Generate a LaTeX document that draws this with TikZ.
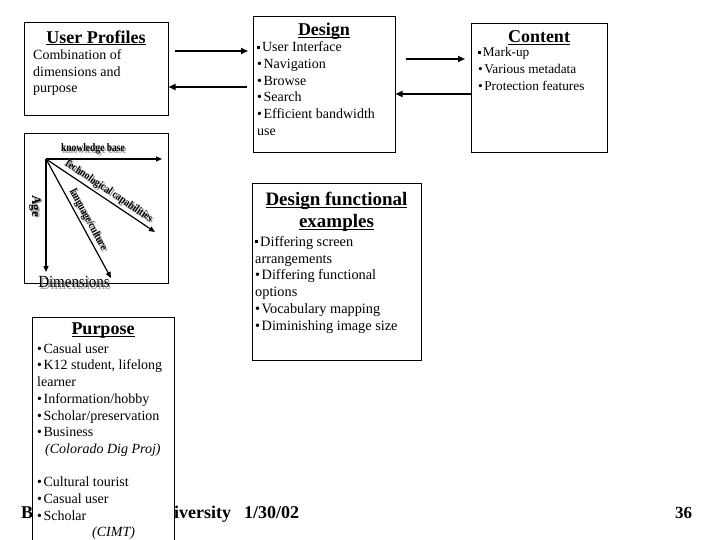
\documentclass[tikz,border=0pt]{standalone}
\usepackage{fontspec}
\usepackage{graphicx}
\setmainfont{Liberation Serif}
\usetikzlibrary{arrows.meta}
\newcommand\sqb{\rule[0.22em]{0.2em}{0.2em}\hspace{0.15em}}
\newcommand\bul{\textbullet\hspace{1.5pt}}
\newcommand\ttlu[1]{\underline{\smash{#1}}}
\begin{document}
\begin{tikzpicture}[x=1pt,y=-1pt,
  box/.style={draw, line width=0.9pt, fill=white},
  harrow/.style={line width=1.8pt, -{Triangle[length=7pt,width=6pt]}},
  darrow/.style={line width=1.2pt, -{Triangle[length=6pt,width=5pt]}},
  body/.style={anchor=north west, inner sep=0pt, align=left, font=\fontsize{14}{16.7}\selectfont},
  ttl/.style={anchor=base, inner sep=0pt, font=\bfseries\fontsize{18}{21}\selectfont},
  dlab/.style={inner sep=0pt, font=\bfseries\fontsize{11.5}{12}\selectfont},
  shd/.style={text=black!40},
  foot/.style={anchor=base west, inner sep=0pt, font=\bfseries\fontsize{18}{20}\selectfont}
]
\useasboundingbox (0,0) rectangle (720,540);

% footer (partly hidden behind the Purpose box)
\node[foot] (fB) at (21,518) {B};
\node[foot] (fU) at (174,518) {iversity};
\node[foot] (fD) at (244,518) {1/30/02};
\node[anchor=base, inner sep=0pt, font=\bfseries\fontsize{17}{20}\selectfont] (pg) at (683.5,518) {36};

% User Profiles
\draw[box] (24,22) rectangle (168,115);
\node[ttl] (upt) at (96,43.3) {\ttlu{User Profiles}};
\node[body] (upb) at (33,49.3) {Combination of\\dimensions and\\purpose};

% Design
\draw[box] (253,16) rectangle (395,152);
\node[ttl] (dt) at (324,36) {\ttlu{Design}};
\node[body] (db) at (257,41.6) {\sqb User Interface\\\bul Navigation\\\bul Browse\\\bul Search\\\bul Efficient bandwidth\\use};

% Content
\draw[box] (471,23) rectangle (607,152);
\node[ttl] (ct) at (539,42.5) {\ttlu{Content}};
\node[body, font=\fontsize{13.3}{17}\selectfont] (cb) at (478,47.3) {\sqb Mark-up\\\bul Various metadata\\\bul Protection features};

% arrows between top boxes
\coordinate (a1s) at (175,51); \coordinate (a1e) at (248,51);
\coordinate (a2s) at (247,87); \coordinate (a2e) at (168.5,87);
\coordinate (a3s) at (406,59); \coordinate (a3e) at (465,59);
\coordinate (a4s) at (471,94); \coordinate (a4e) at (395.5,94);
\draw[harrow] (a1s) -- (a1e);
\draw[harrow] (a2s) -- (a2e);
\draw[harrow] (a3s) -- (a3e);
\draw[harrow] (a4s) -- (a4e);

% Dimensions
\draw[box] (24,133) rectangle (168,283);
\coordinate (o) at (46,159);
\coordinate (kb) at (162,159);
\coordinate (ag) at (46,272);
\coordinate (tc) at (155,232);
\coordinate (lc) at (111,278);
\draw[darrow] (o) -- (kb);
\draw[darrow] (o) -- (ag);
\draw[darrow] (o) -- (tc);
\draw[darrow] (o) -- (lc);
% labels with shadow
\node[dlab, shd] (kbs) at (94.5,150.5) {\scalebox{0.83}[1]{knowledge base}};
\node[dlab] (kbl) at (93,149) {\scalebox{0.83}[1]{knowledge base}};
\node[dlab, shd, rotate=-33.8] (tcs) at (109.5,192.5) {\scalebox{0.83}[1]{Technological capabilities}};
\node[dlab, rotate=-33.8] (tcl) at (108,191) {\scalebox{0.83}[1]{Technological capabilities}};
\node[dlab, shd, rotate=-61.4] (lcs) at (89.5,221.5) {\scalebox{0.83}[1]{language/culture}};
\node[dlab, rotate=-61.4] (lcl) at (88,220) {\scalebox{0.83}[1]{language/culture}};
\node[dlab, shd, rotate=-90, font=\bfseries\fontsize{13}{14}\selectfont] (ags) at (36.5,207.5) {Age};
\node[dlab, rotate=-90, font=\bfseries\fontsize{13}{14}\selectfont] (agl) at (35,206) {Age};
\node[inner sep=0pt, font=\fontsize{17}{18}\selectfont, text=black!40] (dms) at (75.5,283.5) {\scalebox{0.88}[1]{Dimensions}};
\node[inner sep=0pt, font=\fontsize{17}{18}\selectfont] (dml) at (74,282) {\scalebox{0.88}[1]{Dimensions}};

% Design functional examples
\draw[box] (252,183) rectangle (421,360);
\node[ttl, font=\bfseries\fontsize{19}{21}\selectfont] (dft1) at (336.5,206) {\ttlu{Design functional}};
\node[ttl, font=\bfseries\fontsize{19}{21}\selectfont] (dft2) at (336.5,228) {\ttlu{examples}};
\node[body, font=\fontsize{14.3}{16.8}\selectfont] (dfb) at (255,236) {\sqb Differing screen\\arrangements\\\bul Differing functional\\options\\\bul Vocabulary mapping\\\bul Diminishing image size};

% Purpose
\draw[box] (32,317) rectangle (174,548);
\node[ttl] (pt) at (103,334.5) {\ttlu{Purpose}};
\node[body] (pb) at (37,343.3) {\bul Casual user\\\bul K12 student, lifelong\\learner\\\bul Information/hobby\\\bul Scholar/preservation\\\bul Business\\\hspace*{8pt}\textit{(Colorado Dig Proj)}\\\mbox{}\\\bul Cultural tourist\\\bul Casual user\\\bul Scholar\\\hspace*{55pt}\textit{(CIMT)}};
\end{tikzpicture}
\end{document}
